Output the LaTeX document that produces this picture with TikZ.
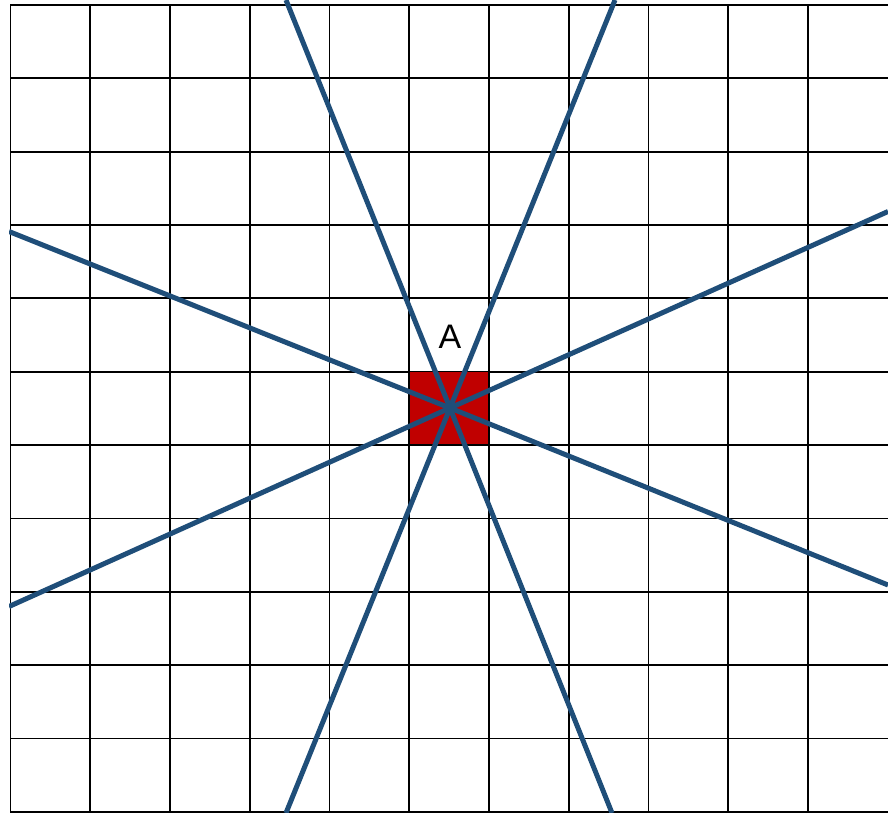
\documentclass[tikz,border=0pt]{standalone}
\usepackage{fontspec}
\setmainfont{Liberation Sans}
\definecolor{rayblue}{HTML}{1F4E79}
\definecolor{cellred}{HTML}{C00000}
\begin{document}
\begin{tikzpicture}[x=1pt,y=-1pt,
  gridline/.style={black,line width=1.9pt},
  ray/.style={rayblue,line width=5pt},
  cell/.style={draw=black,line width=1.9pt,fill=cellred,minimum width=80pt,minimum height=73.4pt,inner sep=0pt}]
\useasboundingbox (0,0) rectangle (888,813);
% horizontal grid lines
\foreach \i in {0,...,11} {
  \draw[gridline] (10,{5+\i*73.35}) -- (888,{5+\i*73.35});
}
% vertical grid lines
\foreach \j in {0,...,10} {
  \draw[gridline] ({10.5+\j*79.75},5) -- ({10.5+\j*79.75},812);
}
\node[cell] (sq) at (449.4,408.2) {};
\coordinate (c) at (450,408);
\node[font=\fontsize{34}{38}\selectfont] (lblA) at (450,337) {A};
\begin{scope}
\clip (9,0) rectangle (888,813);
\coordinate (r1a) at (286,0);   \coordinate (r1b) at (612,813);
\coordinate (r2a) at (615,0);   \coordinate (r2b) at (286,813);
\coordinate (r3a) at (9,231.5); \coordinate (r3b) at (888,585);
\coordinate (r4a) at (9,606.5); \coordinate (r4b) at (888,211.5);
\draw[ray] (r1a) -- (c) -- (r1b);
\draw[ray] (r2a) -- (c) -- (r2b);
\draw[ray] (r3a) -- (c) -- (r3b);
\draw[ray] (r4a) -- (c) -- (r4b);
\end{scope}
\end{tikzpicture}
\end{document}
